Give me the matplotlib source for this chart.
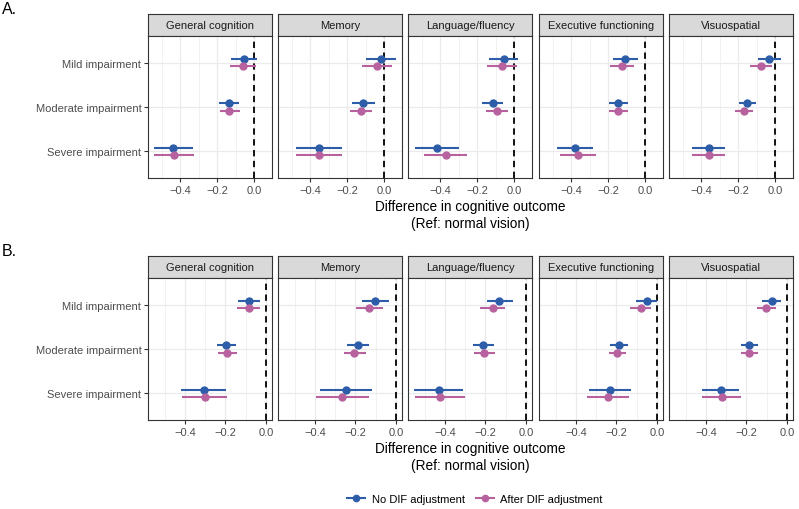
import numpy as np
import matplotlib
matplotlib.use("Agg")
import matplotlib.pyplot as plt
from matplotlib.lines import Line2D

plt.rcParams['font.family'] = ['Liberation Sans', 'DejaVu Sans']

# ----- data (rows: domains, cols: mild / moderate / severe) -----
domains = ["General cognition", "Memory", "Language/fluency",
           "Executive functioning", "Visuospatial"]
levels = ["Mild impairment", "Moderate impairment", "Severe impairment"]
series = ["No DIF adjustment", "After DIF adjustment"]
xtick_vals = [-0.4, -0.2, 0.0]
xtick_labels = ["\u22120.4", "\u22120.2", "0.0"]

# panel A
a_no_est = [[-0.055, -0.136, -0.442], [-0.015, -0.115, -0.355], [-0.056, -0.116, -0.416],
            [-0.107, -0.145, -0.380], [-0.031, -0.151, -0.360]]
a_no_lo = [[-0.127, -0.190, -0.545], [-0.096, -0.176, -0.478], [-0.135, -0.176, -0.535],
           [-0.173, -0.195, -0.476], [-0.091, -0.196, -0.451]]
a_no_hi = [[0.015, -0.082, -0.333], [0.067, -0.051, -0.227], [0.022, -0.058, -0.298],
           [-0.040, -0.095, -0.280], [0.031, -0.105, -0.273]]
a_dif_est = [[-0.060, -0.136, -0.435], [-0.036, -0.124, -0.353], [-0.065, -0.093, -0.369],
             [-0.125, -0.145, -0.364], [-0.076, -0.169, -0.360]]
a_dif_lo = [[-0.133, -0.187, -0.542], [-0.118, -0.185, -0.478], [-0.144, -0.151, -0.487],
            [-0.191, -0.195, -0.464], [-0.138, -0.215, -0.451]]
a_dif_hi = [[0.009, -0.076, -0.327], [0.045, -0.064, -0.227], [0.015, -0.033, -0.253],
            [-0.058, -0.095, -0.264], [-0.018, -0.120, -0.269]]

# panel B
b_no_est = [[-0.083, -0.195, -0.307], [-0.102, -0.187, -0.246], [-0.131, -0.210, -0.431],
            [-0.051, -0.187, -0.230], [-0.076, -0.187, -0.327]]
b_no_lo = [[-0.140, -0.240, -0.418], [-0.169, -0.240, -0.377], [-0.193, -0.260, -0.554],
           [-0.104, -0.230, -0.337], [-0.124, -0.228, -0.421]]
b_no_hi = [[-0.028, -0.149, -0.195], [-0.036, -0.132, -0.116], [-0.066, -0.160, -0.309],
           [0.002, -0.142, -0.127], [-0.028, -0.145, -0.235]]
b_dif_est = [[-0.086, -0.190, -0.302], [-0.132, -0.205, -0.264], [-0.164, -0.205, -0.425],
             [-0.081, -0.195, -0.243], [-0.101, -0.187, -0.322]]
b_dif_lo = [[-0.144, -0.236, -0.413], [-0.198, -0.258, -0.395], [-0.226, -0.256, -0.545],
            [-0.134, -0.238, -0.345], [-0.149, -0.228, -0.418]]
b_dif_hi = [[-0.031, -0.144, -0.192], [-0.066, -0.149, -0.132], [-0.101, -0.154, -0.301],
            [-0.028, -0.152, -0.136], [-0.053, -0.145, -0.228]]

colors = ["#2D5DA8", "#B7629F"]

W, H = 799, 510
fig = plt.figure(figsize=(W / 100, H / 100), dpi=100)


def px_axes(x0, y0, x1, y1):
    # pixel box (top-left origin) -> figure axes
    return fig.add_axes([x0 / W, 1 - y1 / H, (x1 - x0) / W, (y1 - y0) / H])


def draw_block(label, top, est, lo, hi):
    # ----- one row of five facets, like facet_wrap + theme_bw -----
    allv = np.concatenate([np.ravel(lo), np.ravel(hi), [0.0]])
    span = allv.max() - allv.min()
    xlim = (allv.min() - 0.05 * span, allv.max() + 0.05 * span)

    fig.text(2 / W, 1 - (top - 6) / H, label, fontsize=11.5, va="center", ha="left")

    lefts = [148, 278, 408, 539, 669]
    pw = 124
    strip_top, strip_bot, pan_bot = top, top + 22, top + 164
    ypos = np.arange(1, len(levels) + 1)
    dodge = 0.08

    for k, dom in enumerate(domains):
        x0 = lefts[k]
        # strip
        sax = px_axes(x0, strip_top, x0 + pw, strip_bot)
        sax.set_facecolor("#D9D9D9")
        sax.set_xticks([]); sax.set_yticks([])
        for s in sax.spines.values():
            s.set_color("#333333"); s.set_linewidth(0.8)
        sax.text(0.5, 0.5, dom, ha="center", va="center", fontsize=8, color="#1A1A1A",
                 transform=sax.transAxes)

        ax = px_axes(x0, strip_bot, x0 + pw, pan_bot)
        ax.set_xlim(xlim)
        ax.set_ylim(3.6, 0.4)
        ax.set_xticks(xtick_vals)
        ax.set_xticks([v for v in [-0.5, -0.3, -0.1, 0.1] if xlim[0] < v < xlim[1]], minor=True)
        ax.set_xticklabels(xtick_labels)
        ax.set_yticks(ypos)
        ax.grid(True, which="major", color="#EBEBEB", lw=0.9)
        ax.grid(True, which="minor", axis="x", color="#EBEBEB", lw=0.5)
        ax.set_axisbelow(True)
        ax.tick_params(axis="both", which="major", labelsize=8, labelcolor="#4D4D4D",
                       color="#333333", length=2.8, width=0.8, pad=2)
        ax.tick_params(axis="x", which="minor", length=0)
        if k == 0:
            ax.set_yticklabels(levels)
        else:
            ax.set_yticklabels([])
            ax.tick_params(axis="y", which="both", length=0)
        for s in ax.spines.values():
            s.set_color("#333333"); s.set_linewidth(0.8)

        ax.axvline(0, color="black", lw=1.3, ls=(0, (3.5, 2.5)), zorder=1)

        for j in range(len(series)):
            yy = ypos + (-dodge if j == 0 else dodge)
            ax.hlines(yy, lo[j][k], hi[j][k], color=colors[j], lw=1.5, zorder=3)
            ax.plot(est[j][k], yy, "o", color=colors[j], ms=5, zorder=4)

    cx = (lefts[0] + lefts[-1] + pw) / 2
    fig.text(cx / W, 1 - (pan_bot + 21) / H, "Difference in cognitive outcome\n(Ref: normal vision)",
             ha="center", va="top", fontsize=9.8, linespacing=1.3)


draw_block("A.", 15, (a_no_est, a_dif_est), (a_no_lo, a_dif_lo), (a_no_hi, a_dif_hi))
draw_block("B.", 257, (b_no_est, b_dif_est), (b_no_lo, b_dif_lo), (b_no_hi, b_dif_hi))

handles = [Line2D([], [], color=c, lw=1.5, marker="o", ms=4.5) for c in colors]
fig.legend(handles, series, loc="center", bbox_to_anchor=(475 / W, 1 - 500 / H),
           ncol=2, frameon=False, fontsize=8, handlelength=1.6, handletextpad=0.6,
           columnspacing=1.0)

fig.savefig("out.png", dpi=100)
